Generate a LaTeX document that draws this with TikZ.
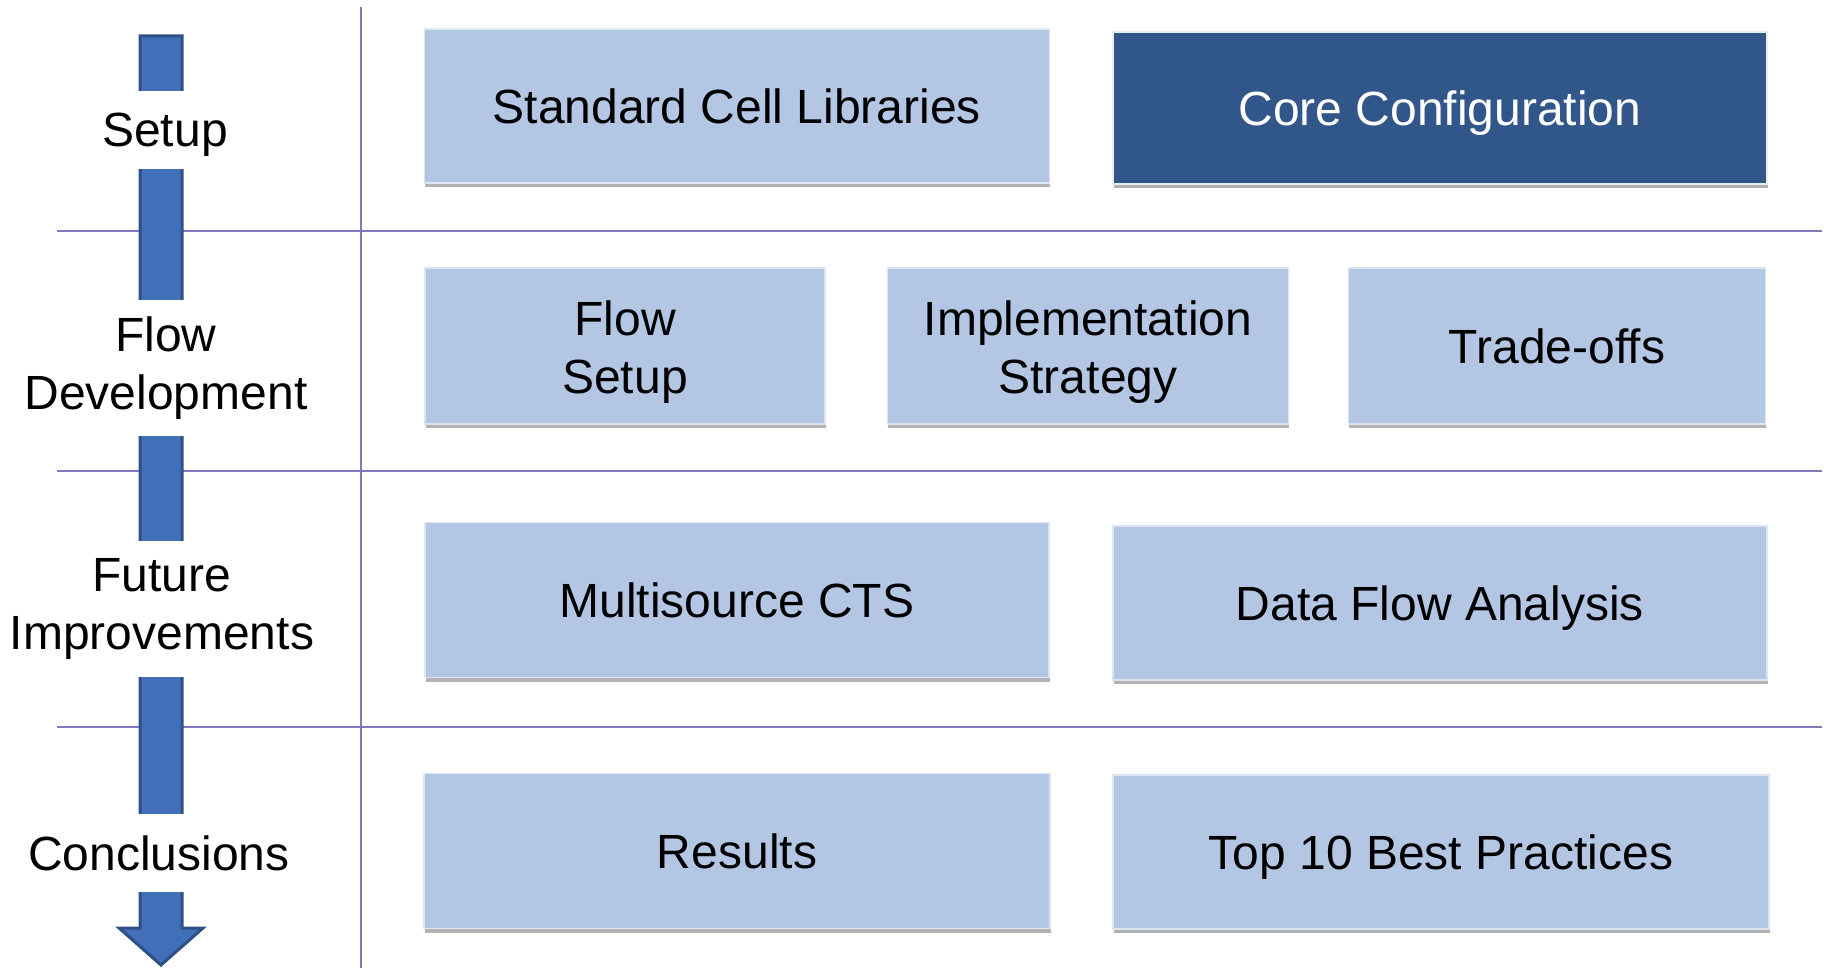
\documentclass[tikz,border=0pt]{standalone}
\usepackage{fontspec}
\setmainfont{Liberation Sans}
\usetikzlibrary{shadows}
\definecolor{boxblue}{HTML}{B3C6E3}
\definecolor{coreblue}{HTML}{31578A}
\definecolor{arrowblue}{HTML}{4170B9}
\definecolor{arrowedge}{HTML}{2E5087}
\definecolor{gridline}{HTML}{8577BD}
\newcommand{\toprow}{\rule{0pt}{47pt}}
\begin{document}
\begin{tikzpicture}[x=1pt, y=-1pt,
  topic/.style={fill=boxblue, draw=white!55!boxblue, line width=1.5pt, inner sep=0pt,
    align=center, font=\fontsize{48}{57.5}\selectfont,
    drop shadow={shadow xshift=0.5pt, shadow yshift=-4pt, opacity=0.3, fill=black}},
  core/.style={topic, fill=coreblue, draw=white!70!boxblue, text=white},
  flat/.style={text depth=0pt},
  phase/.style={fill=white, inner sep=0pt, minimum width=130pt, align=center,
    font=\fontsize{48}{57.5}\selectfont}]
\useasboundingbox (0,0) rectangle (1824,968);
% grid
\draw[gridline, line width=2pt] (361,7) -- (361,968);
\foreach \y in {231,471,727}
  \draw[gridline, line width=2pt] (57,\y) -- (1822,\y);
% big arrow down the left side
\draw[arrowedge, fill=arrowblue, line width=3pt, line join=miter]
  (140,36) -- (182,36) -- (182,928) -- (203,928) -- (161,965) -- (119,928) -- (140,928) -- cycle;
% phases
\node[phase, flat, minimum height=78pt] (setup) at (165,130) {Setup};
\node[phase, minimum height=136pt] (flowdev) at (166,368) {Flow\\Development};
\node[phase, minimum height=136pt] (future) at (162,609) {Future\\Improvements};
\node[phase, flat, minimum height=78pt] (concl) at (159,853) {Conclusions};
% topics
\node[topic, flat, minimum width=625pt, minimum height=154pt] (libs) at (737,106) {Standard Cell Libraries};
\node[core, flat, minimum width=654pt, minimum height=152pt] (corecfg) at (1440,108) {Core Configuration};
\node[topic, minimum width=400pt, minimum height=156pt] (flowsetup) at (625,346) {\toprow Flow\\Setup};
\node[topic, minimum width=401pt, minimum height=156pt] (impl) at (1088,346) {\toprow Implementation\\Strategy};
\node[topic, flat, minimum width=417pt, minimum height=156pt] (trade) at (1557,346) {Trade-offs};
\node[topic, flat, minimum width=624pt, minimum height=155pt] (cts) at (737,600) {Multisource CTS};
\node[topic, flat, minimum width=654pt, minimum height=154pt] (dfa) at (1440,603) {Data Flow Analysis};
\node[topic, flat, minimum width=626pt, minimum height=155pt] (results) at (737,851) {Results};
\node[topic, flat, minimum width=656pt, minimum height=154pt] (best) at (1441,852) {Top 10 Best Practices};
\end{tikzpicture}
\end{document}
